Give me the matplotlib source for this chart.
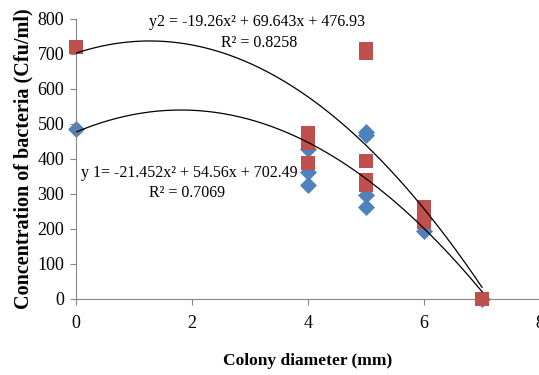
import matplotlib.pyplot as plt
import numpy as np

# colony diameter (mm) vs bacteria concentration (Cfu/ml)
x_blue = [0, 4, 4, 4, 5, 5, 5, 5, 6, 6, 7]
y_blue = [485, 428, 364, 326, 478, 469, 298, 264, 228, 194, 0]

x_red = [0, 4, 4, 4, 5, 5, 5, 5, 5, 6, 6, 6, 7]
y_red = [720, 473, 447, 388, 715, 703, 393, 340, 325, 262, 240, 220, 0]

# trendline coefficients as printed on the chart (a, b, c)
fit_upper = [-21.452, 54.56, 702.49]
fit_lower = [-19.26, 69.643, 476.93]

xticks = [0, 2, 4, 6, 8]
yticks = [0, 100, 200, 300, 400, 500, 600, 700, 800]

plt.rcParams['font.family'] = 'Liberation Serif'

fig = plt.figure(figsize=(5.39, 3.75), dpi=100)
ax = fig.add_axes([0.141, 0.2027, 0.861, 0.7467])

ax.scatter(x_blue, y_blue, marker='D', s=75, color='#4F81BD', zorder=2,
           linewidths=0, clip_on=False)
ax.scatter(x_red, y_red, marker='s', s=95, color='#C0504D', zorder=3,
           linewidths=0, clip_on=False)

xs = np.linspace(0, 7, 200)
for a, b, c in (fit_upper, fit_lower):
    ax.plot(xs, a * xs**2 + b * xs + c, color='black', lw=0.9, zorder=4)

ax.set_xlim(0, 8)
ax.set_ylim(0, 800)
ax.set_xticks(xticks)
ax.set_yticks(yticks)

for s in ['top', 'right']:
    ax.spines[s].set_visible(False)
for s in ['left', 'bottom']:
    ax.spines[s].set_color('#868686')
ax.tick_params(axis='both', colors='#868686', labelcolor='black', labelsize=13, length=4.5)
ax.tick_params(axis='x', pad=7)
ax.tick_params(axis='y', pad=4)

ax.set_xlabel('Colony diameter (mm)', fontsize=12.5, fontweight='bold', labelpad=15)
ax.set_ylabel('Concentration of bacteria (Cfu/ml)', fontsize=14.5, fontweight='bold', labelpad=3)

ax.text(3.12, 790, 'y2 = -19.26x² + 69.643x + 476.93', fontsize=11.5, ha='center', va='center')
ax.text(3.16, 730, 'R² = 0.8258', fontsize=11.5, ha='center', va='center')
ax.text(1.95, 360, 'y 1= -21.452x² + 54.56x + 702.49', fontsize=11.5, ha='center', va='center')
ax.text(1.92, 302, 'R² = 0.7069', fontsize=11.5, ha='center', va='center')

fig.savefig('out.png', dpi=100)
